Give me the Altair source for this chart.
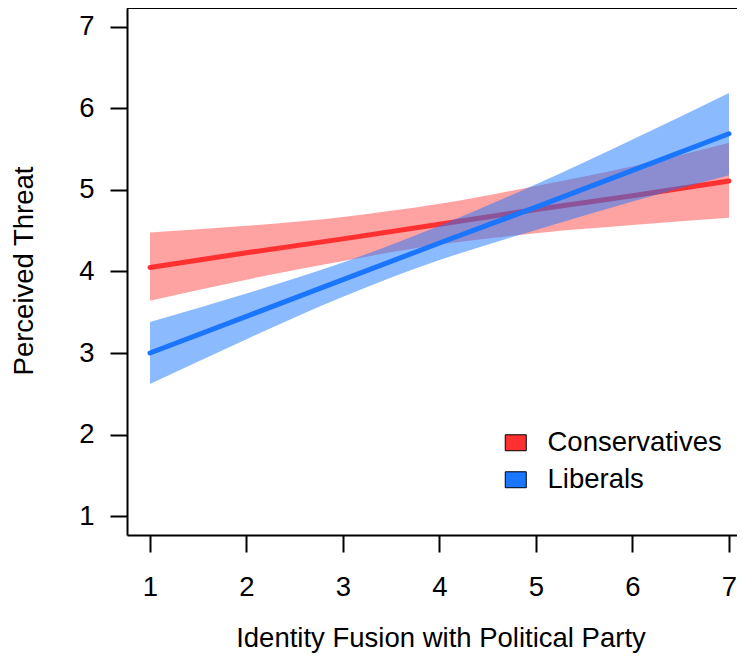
import altair as alt
import pandas as pd

# ---- data ----
fusion = [1, 2, 3, 4, 5, 6, 7]
groups = ["Conservatives", "Liberals"]
cons_fit = [4.05, 4.23, 4.40, 4.58, 4.76, 4.93, 5.11]
cons_lo = [3.64, 3.90, 4.13, 4.33, 4.47, 4.57, 4.66]
cons_hi = [4.48, 4.56, 4.67, 4.83, 5.05, 5.29, 5.58]
lib_fit = [3.00, 3.45, 3.90, 4.35, 4.79, 5.24, 5.69]
lib_lo = [2.62, 3.17, 3.69, 4.14, 4.51, 4.86, 5.18]
lib_hi = [3.38, 3.73, 4.11, 4.56, 5.07, 5.62, 6.19]
x_ticks = [1, 2, 3, 4, 5, 6, 7]
y_ticks = [1, 2, 3, 4, 5, 6, 7]

line_colors = ["#FF3030", "#1A75FF"]

rows = []
for g, fit, lo, hi in [("Conservatives", cons_fit, cons_lo, cons_hi),
                       ("Liberals", lib_fit, lib_lo, lib_hi)]:
    for xv, f, l, h in zip(fusion, fit, lo, hi):
        rows.append({"group": g, "fusion": xv, "fit": f, "lo": l, "hi": h})
df = pd.DataFrame(rows)

FONT = "Liberation Sans"
FS = 27.5
W, H = 610, 527

xscale = alt.Scale(domain=[0.7617, 7.083], nice=False, zero=False)
yscale = alt.Scale(domain=[0.767, 7.233], nice=False, zero=False)

xaxis = alt.Axis(values=x_ticks, title="Identity Fusion with Political Party",
                 labelPadding=21, titleX=313.5, titleY=111,
                 titleBaseline="alphabetic", titleAlign="center", format="d")
yaxis = alt.Axis(values=y_ticks, title="Perceived Threat", labelPadding=16,
                 titleAngle=270, titleX=-95, titleY=262.5,
                 titleBaseline="alphabetic", titleAlign="center", format="d")

base = alt.Chart(df)

def band(g, color, with_legend=False):
    enc = dict(
        x=alt.X("fusion:Q", scale=xscale, axis=xaxis),
        y=alt.Y("lo:Q", scale=yscale, axis=yaxis),
        y2="hi:Q",
    )
    if with_legend:
        enc["color"] = alt.Color(
            "group:N",
            scale=alt.Scale(domain=groups, range=line_colors),
            legend=alt.Legend(
                title=None, orient="none", legendX=375, legendY=421,
                symbolType="M-1,-0.76L1,-0.76L1,0.76L-1,0.76Z", symbolSize=441,
                symbolStrokeColor="black", symbolStrokeWidth=1, symbolOpacity=1,
                labelFont=FONT, labelFontSize=FS, labelColor="black",
                labelOffset=18, labelLimit=400, rowPadding=8, padding=0, offset=0,
            ),
        )
        mark = base.mark_area(opacity=0.45, interpolate="monotone")
    else:
        mark = base.mark_area(opacity=0.5, interpolate="monotone", color=color)
    return mark.encode(**enc).transform_filter(alt.datum.group == g)

def fitline(g, color):
    return base.mark_line(color=color, strokeWidth=5, strokeCap="round").encode(
        x=alt.X("fusion:Q", scale=xscale, axis=xaxis),
        y=alt.Y("fit:Q", scale=yscale, axis=yaxis),
    ).transform_filter(alt.datum.group == g)

top_border = alt.Chart(pd.DataFrame({"a": [0]})).mark_rule(
    color="black", strokeWidth=2
).encode(x=alt.value(0), x2=alt.value(W), y=alt.value(0))

chart = alt.layer(
    band("Conservatives", line_colors[0], with_legend=True),
    fitline("Conservatives", line_colors[0]),
    band("Liberals", line_colors[1]),
    fitline("Liberals", line_colors[1]),
    top_border,
).properties(
    width=W, height=H,
    autosize=alt.AutoSizeParams(type="none"),
    padding={"left": 119, "top": 0, "right": 0, "bottom": 118},
).configure_view(stroke=None).configure_axis(
    grid=False, domainColor="black", domainWidth=2, tickColor="black",
    tickWidth=2, tickSize=17, labelFont=FONT, labelFontSize=FS,
    labelColor="black", titleFont=FONT, titleFontSize=FS,
    titleFontWeight="normal", titleColor="black", labelAngle=0,
)

chart.save("out.html", embed_options={"renderer": "svg", "actions": False})
